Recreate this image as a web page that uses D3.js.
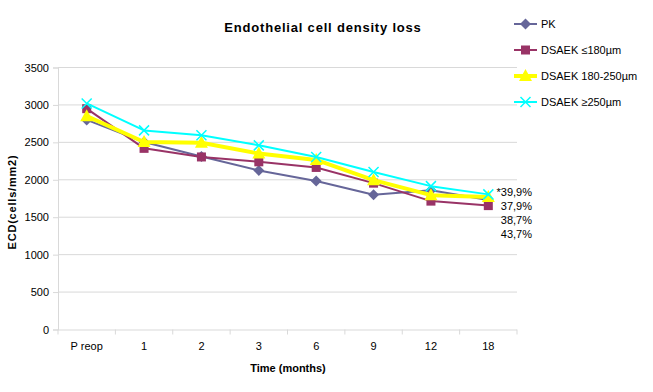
<!DOCTYPE html>
<html lang="en">
<head>
<meta charset="utf-8">
<script src="https://d3js.org/d3.v7.min.js"></script>
<style>
  body { margin: 0; background: #fff; }
  text { font-family: "Liberation Sans", Arial, sans-serif; }
</style>
</head>
<body>
<div id="chart"></div>
<script>
// data
const categories = ["P reop", "1", "2", "3", "6", "9", "12", "18"]
const seriesNames = ["PK", "DSAEK \u2264180\u00b5m", "DSAEK 180-250\u00b5m", "DSAEK \u2265250\u00b5m"]
const pk      = [2800, 2505, 2310, 2125, 1985, 1800, 1860, 1730]
const dsaek1  = [2950, 2420, 2305, 2240, 2165, 1955, 1715, 1655]
const dsaek2  = [2850, 2505, 2495, 2350, 2265, 1995, 1795, 1770]
const dsaek3  = [3020, 2660, 2595, 2460, 2305, 2105, 1915, 1805]
const yTicks = [0, 500, 1000, 1500, 2000, 2500, 3000, 3500]
const lossLabels = ["*39,9%", "37,9%", "38,7%", "43,7%"]

const width = 653, height = 392
const plotLeft = 58, plotRight = 517, plotTop = 67.5, plotBottom = 329.5

const svg = d3.select("#chart").append("svg")
    .attr("width", width)
    .attr("height", height)

const x = d3.scaleBand().domain(categories).range([plotLeft, plotRight])
const y = d3.scaleLinear().domain([0, 3500]).range([plotBottom, plotTop])

// gridlines
svg.append("g").selectAll("line")
    .data(yTicks.filter(d => d > 0))
    .join("line")
    .attr("x1", plotLeft).attr("x2", plotRight)
    .attr("y1", d => y(d)).attr("y2", d => y(d))
    .attr("stroke", "#d9d9d9").attr("stroke-width", 1)

// y axis
const yAxis = d3.axisLeft(y).tickValues(yTicks).tickFormat(d3.format("d")).tickSize(5).tickPadding(4)
const gy = svg.append("g")
    .attr("transform", "translate(" + plotLeft + ",0)")
    .call(yAxis)
gy.select(".domain").attr("stroke", "#d9d9d9")
gy.selectAll(".tick line").attr("stroke", "#d9d9d9")
gy.selectAll(".tick text").attr("font-size", 11).attr("fill", "#000")
    .style("font-family", "'Liberation Sans', Arial, sans-serif")

// x axis
const gx = svg.append("g")
    .attr("transform", "translate(0," + plotBottom + ")")
    .call(d3.axisBottom(x).tickSize(0).tickPadding(13))
gx.select(".domain").attr("stroke", "#d9d9d9").attr("d", "M" + plotLeft + ",0.5H" + plotRight)
gx.selectAll(".tick text").attr("font-size", 11).attr("fill", "#000")
    .style("font-family", "'Liberation Sans', Arial, sans-serif")
// boundary ticks between categories
const bounds = categories.map(c => x(c)).concat([plotRight])
svg.append("g").selectAll("line")
    .data(bounds)
    .join("line")
    .attr("x1", d => d).attr("x2", d => d)
    .attr("y1", plotBottom).attr("y2", plotBottom + 5)
    .attr("stroke", "#d9d9d9")

// series
const series = [
  { name: seriesNames[0], values: pk,     color: "#666699", width: 2,   marker: "diamond" },
  { name: seriesNames[1], values: dsaek1, color: "#993366", width: 2,   marker: "square" },
  { name: seriesNames[2], values: dsaek2, color: "#ffff00", width: 4,   marker: "triangle" },
  { name: seriesNames[3], values: dsaek3, color: "#00ffff", width: 2,   marker: "x" }
]

const cx = c => x(c) + x.bandwidth() / 2
const line = d3.line().x((d, i) => cx(categories[i])).y(d => y(d))

function drawMarker(g, type, color) {
  if (type === "diamond") {
    g.append("path").attr("d", "M0,-5.5L5.5,0L0,5.5L-5.5,0Z").attr("fill", color)
  } else if (type === "square") {
    g.append("rect").attr("x", -4.5).attr("y", -4.5).attr("width", 9).attr("height", 9).attr("fill", color)
  } else if (type === "triangle") {
    g.append("path").attr("d", "M0,-7L6.5,5L-6.5,5Z").attr("fill", color)
  } else {
    g.append("path").attr("d", "M-5,-5L5,5M-5,5L5,-5").attr("stroke", color).attr("stroke-width", 1.5).attr("fill", "none")
  }
}

series.forEach(s => {
  svg.append("path")
      .datum(s.values)
      .attr("d", line)
      .attr("fill", "none")
      .attr("stroke", s.color)
      .attr("stroke-width", s.width)
      .attr("stroke-linejoin", "round")
  s.values.forEach((v, i) => {
    const g = svg.append("g").attr("transform", "translate(" + cx(categories[i]) + "," + y(v) + ")")
    drawMarker(g, s.marker, s.color)
  })
})

// loss labels
svg.append("g").selectAll("text")
    .data(lossLabels)
    .join("text")
    .attr("x", 532)
    .attr("y", (d, i) => 196 + i * 14)
    .attr("text-anchor", "end")
    .attr("font-size", 11)
    .text(d => d)

// legend
const legend = svg.append("g")
series.forEach((s, i) => {
  const ly = 24 + i * 26
  legend.append("line")
      .attr("x1", 514).attr("x2", 537).attr("y1", ly).attr("y2", ly)
      .attr("stroke", s.color).attr("stroke-width", s.width)
  const g = legend.append("g").attr("transform", "translate(525.5," + ly + ")")
  drawMarker(g, s.marker, s.color)
  legend.append("text")
      .attr("x", 541).attr("y", ly + 4)
      .attr("font-size", 11)
      .text(s.name)
})

// title and axis titles
svg.append("text")
    .attr("x", 323).attr("y", 32)
    .attr("text-anchor", "middle")
    .attr("font-size", 13).attr("font-weight", "bold")
    .attr("letter-spacing", 0.8)
    .text("Endothelial cell density loss")

svg.append("text")
    .attr("x", 288).attr("y", 372)
    .attr("text-anchor", "middle")
    .attr("font-size", 11).attr("font-weight", "bold")
    .text("Time (months)")

svg.append("text")
    .attr("transform", "translate(16,202) rotate(-90)")
    .attr("text-anchor", "middle")
    .attr("font-size", 11).attr("font-weight", "bold")
    .attr("letter-spacing", 0.8)
    .text("ECD(cells/mm2)")
</script>
</body>
</html>
